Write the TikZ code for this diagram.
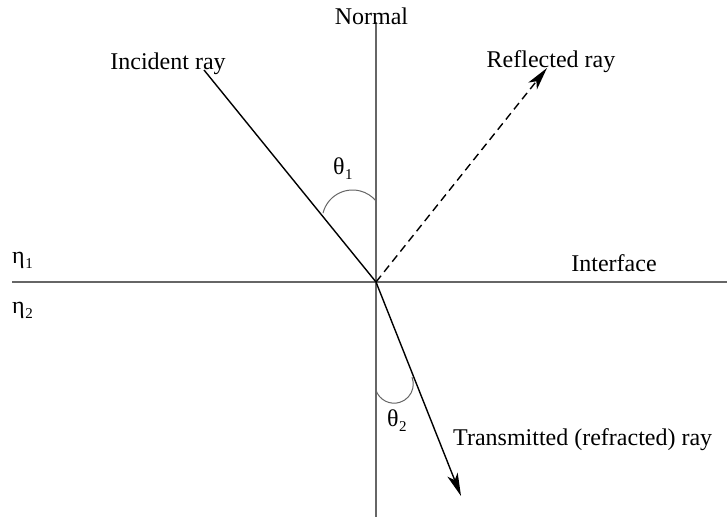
\documentclass[tikz,border=0pt]{standalone}
\usepackage{fontspec}
\setmainfont{Liberation Serif}
\usetikzlibrary{arrows.meta}
\newcommand\subidx[1]{\kern0.5pt\raisebox{-5pt}{\fontsize{15}{15}\selectfont #1}}
\begin{document}
\begin{tikzpicture}[x=1pt,y=-1pt,
  lbl/.style={font=\fontsize{24}{28}\selectfont, inner sep=0pt},
  axisline/.style={draw=black!60, line width=1.4pt},
  raypath/.style={draw=black, line width=1.4pt},
  tipped/.style={-{Stealth[length=23pt,width=11pt,inset=6pt]}},
  anglearc/.style={draw=black!60, line width=1pt}]
\useasboundingbox (0,0) rectangle (727,518);
\coordinate (O) at (376,282);
\coordinate (ntop) at (376,22);
\coordinate (nbot) at (376,517);
\coordinate (hl) at (12,282);
\coordinate (hr) at (727,282);
\coordinate (inc) at (204,70);
\coordinate (refl) at (547,68);
\coordinate (trans) at (461,496);
\coordinate (c1) at (352.6,220.5);
\coordinate (c2) at (394.1,384);
\draw[axisline] (ntop) -- (nbot);
\draw[axisline] (hl) -- (hr);
\draw[raypath] (inc) -- (O);
\draw[raypath, dash pattern=on 8pt off 5pt, tipped] (O) -- (refl);
\draw[raypath, tipped] (O) -- (trans);
\draw[anglearc] (c1) ++(-166:30.5) arc[start angle=-166, end angle=-40, radius=30.5];
\draw[anglearc] (c2) ++(-198:19.2) arc[start angle=-198, end angle=-381, radius=19.2];
\node[lbl, anchor=base] (normal) at (371.5,25) {Normal};
\node[lbl, anchor=base] (incl) at (168,70) {Incident ray};
\node[lbl, anchor=base] (refll) at (551,68) {Reflected ray};
\node[lbl, anchor=base] (intf) at (614,272) {Interface};
\node[lbl, anchor=base west] (transl) at (453,445) {Transmitted (refracted) ray};
\node[lbl, anchor=base west] (t1) at (333,175) {θ\subidx{1}};
\node[lbl, anchor=base west] (t2) at (387,426) {θ\subidx{2}};
\node[lbl, anchor=base west] (e1) at (12,264) {η\subidx{1}};
\node[lbl, anchor=base west] (e2) at (12,313) {η\subidx{2}};
\end{tikzpicture}
\end{document}
